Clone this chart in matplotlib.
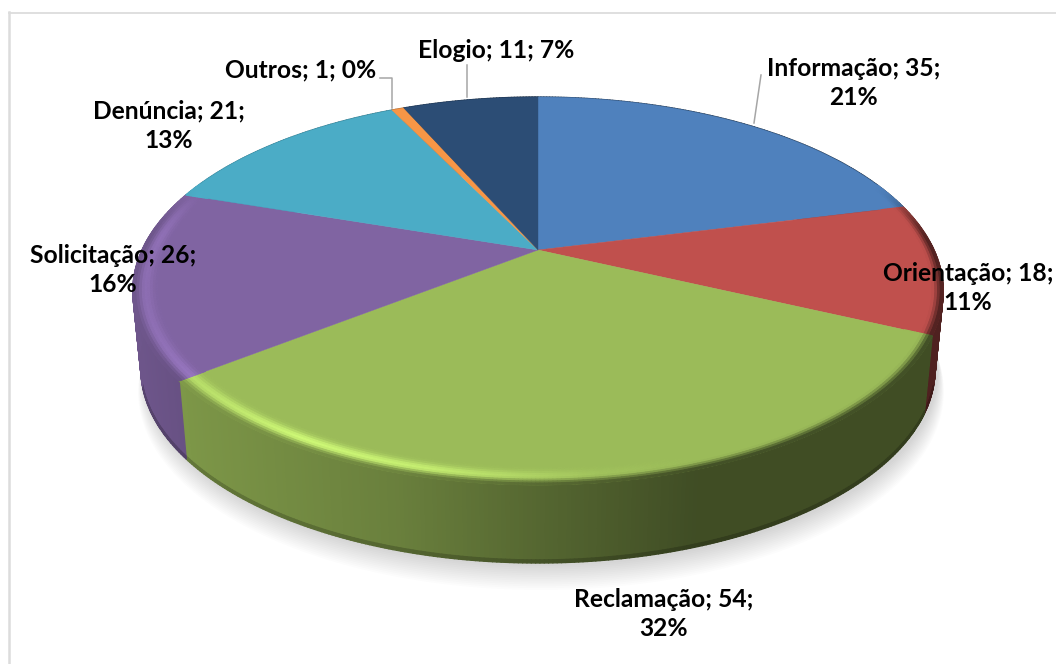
import numpy as np
import matplotlib
matplotlib.use("Agg")
import matplotlib.pyplot as plt
from matplotlib.collections import PolyCollection
from matplotlib.patches import Polygon

categories = ["Informação", "Orientação", "Reclamação", "Solicitação", "Denúncia", "Outros", "Elogio"]
values = [35, 18, 54, 26, 21, 1, 11]
percents = [21, 11, 32, 16, 13, 0, 7]
colors = ["#4f81bd", "#c0504d", "#9bbb59", "#8064a2", "#4bacc6", "#f79646", "#2c4d75"]
label_breaks = [True, True, True, True, True, False, False]
label_pos = [(854, 83), (968, 288), (664, 614), (113, 270), (169, 126), (301, 70), (496, 51)]

CX, CY, A, B, K, DROP, NARROW = 538, 250, 396, 185.3, 0.2114, 78, 0.98

def project(theta, r=1.0, drop=0.0):
    u, v = r * np.sin(theta), r * np.cos(theta)
    w = 1 + K * v
    narrow = 1 + (NARROW - 1) * drop / DROP
    return CX + narrow * A * u / w, CY - B * v / w + drop

def smooth(t):
    t = np.clip(t, 0, 1)
    return t * t * (3 - 2 * t)

def wall_shade(x):
    return np.interp(x, [130, 190, 400, 540, 700, 950], [0.86, 0.80, 0.68, 0.55, 0.41, 0.41])

def highlight(x):
    return np.interp(x, [130, 190, 300, 430, 600, 700], [0.08, 0.18, 0.33, 0.27, 0.04, 0.0])

fig = plt.figure(figsize=(10.56, 6.64), dpi=100)
ax = fig.add_axes([0, 0, 1, 1])
ax.set_xlim(0, 1056)
ax.set_ylim(664, 0)
ax.axis("off")
ax.plot([9, 1056], [12.5, 12.5], color="#d9d9d9", lw=1.2, zorder=0)
ax.plot([9, 9], [12, 664], color="#dcdcdc", lw=1.8, zorder=0)

fracs = np.array(values, dtype=float) / sum(values)
edges = np.concatenate([[0], np.cumsum(fracs)]) * 2 * np.pi

# soft shadow
th = np.linspace(0, 2 * np.pi, 361)
for i in range(14):
    sx, sy = project(th, 1.0 + 0.0015 * i, DROP + 3 + 1.4 * i)
    ax.add_patch(Polygon(np.c_[sx + 3, sy], fc="black", ec="none", alpha=0.013, zorder=1))

# side walls
for start, end, col in zip(edges[:-1], edges[1:], colors):
    base = np.array(matplotlib.colors.to_rgb(col))
    n = max(2, int((end - start) / np.radians(0.5)))
    t = np.linspace(start, end, n)
    quads, fc = [], []
    for d0, d1, dark in [(0, DROP - 3, 1.0), (DROP - 3, DROP, 0.8)]:
        x0, y0 = project(t, 1, d0)
        x1, y1 = project(t, 1, d1)
        for j in range(n - 1):
            if dark < 1 and np.cos(t[j]) > -0.3:
                dark_here = 1.0
            else:
                dark_here = dark
            if dark < 1 and np.cos(t[j]) > 0:
                continue
            quads.append([(x0[j], y0[j]), (x0[j + 1], y0[j + 1]), (x1[j + 1], y1[j + 1]), (x1[j], y1[j])])
            fc.append(np.clip(base * wall_shade(x0[j]) * dark_here, 0, 1))
    ax.add_collection(PolyCollection(quads, facecolors=fc, edgecolors=fc, linewidths=1.0, zorder=2))

# top surface
R_IN = 0.935
levels = np.linspace(R_IN, 1.0, 11)
for start, end, col in zip(edges[:-1], edges[1:], colors):
    base = np.array(matplotlib.colors.to_rgb(col))
    n = max(2, int((end - start) / np.radians(0.5)))
    t = np.linspace(start, end, n)
    ex, ey = project(t)
    ax.add_patch(Polygon(np.r_[[[CX, CY]], np.c_[ex, ey]], fc=col, ec=col, lw=0.3, zorder=3))
    quads, fc = [], []
    for k in range(len(levels) - 1):
        s = (k + 0.5) / (len(levels) - 1)
        x0, y0 = project(t, levels[k])
        x1, y1 = project(t, levels[k + 1])
        for j in range(n - 1):
            tm = 0.5 * (t[j] + t[j + 1])
            weight = smooth((0.38 - np.cos(tm)) / 0.35)
            if weight <= 0:
                continue
            wall = base * wall_shade(x1[j])
            c = base + (wall - base) * smooth((s - 0.6) / 0.4)
            c = c * (1 + highlight(x1[j]) * np.exp(-((s - 0.55) / 0.25) ** 2))
            c = base + (c - base) * weight
            c = np.clip(c, 0, 1)
            quads.append([(x0[j], y0[j]), (x0[j + 1], y0[j + 1]), (x1[j + 1], y1[j + 1]), (x1[j], y1[j])])
            fc.append(c)
    if quads:
        ax.add_collection(PolyCollection(quads, facecolors=fc, edgecolors=fc, linewidths=0.8, zorder=4))

# leader lines
leader = dict(color="#a6a6a6", lw=1.1, zorder=5)
ax.plot([761, 754], [75, 123], **leader)
ax.plot([380, 392, 392], [78, 78, 108], **leader)
ax.plot([467, 467], [65, 97], **leader)

# data labels
for cat, val, pct, brk, (lx, ly) in zip(categories, values, percents, label_breaks, label_pos):
    sep = "\n" if brk else " "
    ax.text(lx, ly, f"{cat}; {val};{sep}{pct}%", ha="center", va="center", family="Lato",
            weight="bold", fontsize=17.7, color="black", linespacing=1.36, zorder=6)

fig.savefig("out.png", dpi=100)
